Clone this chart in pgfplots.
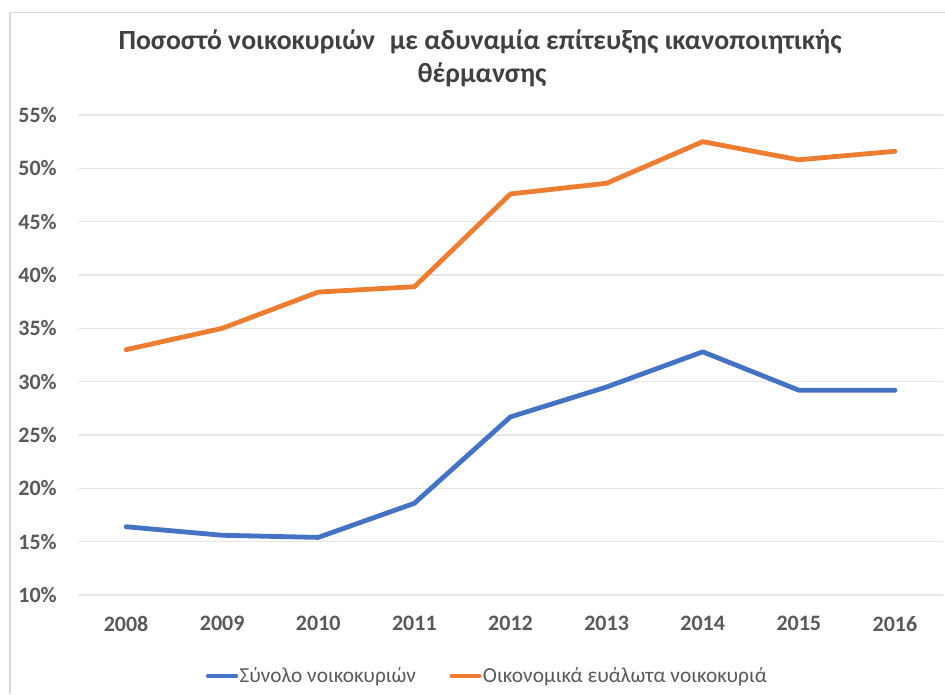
\documentclass[border=0pt]{standalone}
\usepackage{pgfplots}
\pgfplotsset{compat=1.18}
\usepackage{fontspec}
\setmainfont{Carlito}
\definecolor{sblue}{HTML}{4472C4}
\definecolor{sorange}{HTML}{ED7D31}
\definecolor{gridgray}{HTML}{E6E6E6}
\definecolor{bordergray}{HTML}{D9D9D9}
\definecolor{ticktext}{HTML}{595959}
\definecolor{titletext}{HTML}{404040}
\pgfplotstableread{
x total vuln
0 16.4 33.0
1 15.6 35.0
2 15.4 38.4
3 18.6 38.9
4 26.7 47.6
5 29.5 48.6
6 32.8 52.5
7 29.2 50.8
8 29.2 51.6
}\datatable
\begin{document}
\begin{tikzpicture}
\path[use as bounding box] (0,0) rectangle (708.75pt,520.5pt);
\draw[color=bordergray, line width=1.1pt] (7.5pt,0) -- (7.5pt,511.1pt) -- (708.75pt,511.1pt);
\node[anchor=base, inner sep=0, font=\fontsize{20.8pt}{22pt}\selectfont\bfseries, text=titletext] at (360pt,483.5pt) {Ποσοστό νοικοκυριών\hspace{0.3em} με αδυναμία επίτευξης ικανοποιητικής};
\node[anchor=base, inner sep=0, font=\fontsize{20.8pt}{22pt}\selectfont\bfseries, text=titletext] at (361.5pt,458.25pt) {θέρμανσης};
\begin{axis}[
  at={(58.5pt,74.25pt)}, anchor=south west,
  width=648.75pt, height=360pt, scale only axis,
  xmin=-0.5, xmax=8.5, ymin=10, ymax=55,
  xtick={0,1,2,3,4,5,6,7,8},
  xticklabels={2008,2009,2010,2011,2012,2013,2014,2015,2016},
  ytick={10,15,20,25,30,35,40,45,50,55},
  yticklabels={10\%,15\%,20\%,25\%,30\%,35\%,40\%,45\%,50\%,55\%},
  ymajorgrids, grid style={color=gridgray, line width=0.9pt},
  axis line style={draw=none}, major tick style={draw=none},
  /pgf/number format/assume math mode=true,
  ticklabel style={font=\fontsize{16.5pt}{18pt}\selectfont\bfseries, text=ticktext, inner sep=0pt},
  yticklabel style={anchor=east, xshift=-15.75pt},
  xticklabel style={anchor=north, yshift=-15.75pt},
  clip=false,
  legend columns=2,
  legend style={at={(0.473,-0.169)}, anchor=center, draw=none, fill=none,
    font=\fontsize{16pt}{18pt}\selectfont, text=ticktext,
    /tikz/every even column/.append style={column sep=24pt},
    nodes={inner sep=1pt}},
  legend image code/.code={\draw[#1, line width=3.2pt, line cap=round] (0pt,0pt) -- (21pt,0pt);},
]
\addplot[sblue, line width=3.6pt, line cap=round, line join=round] table[x=x, y=total] {\datatable};
\addlegendentry{Σύνολο νοικοκυριών}
\addplot[sorange, line width=3.6pt, line cap=round, line join=round] table[x=x, y=vuln] {\datatable};
\addlegendentry{Οικονομικά ευάλωτα νοικοκυριά}
\end{axis}
\end{tikzpicture}
\end{document}
